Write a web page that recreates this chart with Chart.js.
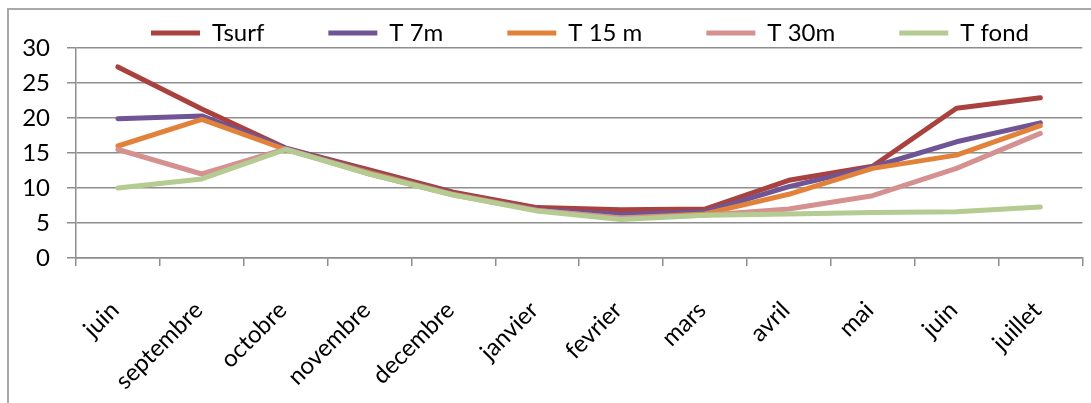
<!DOCTYPE html>
<html>
<head>
<meta charset="utf-8">
<script src="https://cdn.jsdelivr.net/npm/chart.js@4/dist/chart.umd.min.js"></script>
<style>
  html, body { margin: 0; padding: 0; background: #fff; overflow: hidden; }
  #wrap { position: relative; width: 1091px; height: 403px; }
  #frame { position: absolute; left: 7px; top: 8px; width: 1110px; height: 430px;
           border: 2px solid #a9a9a9; box-sizing: border-box; }
  #c { position: absolute; left: 0; top: 0; }
</style>
</head>
<body>
<div id="wrap">
  <div id="frame"></div>
  <canvas id="c" width="1091" height="403"></canvas>
</div>
<script>
// Monthly water temperatures (°C) at several depths
const months = ['juin', 'septembre', 'octobre', 'novembre', 'decembre', 'janvier',
                'fevrier', 'mars', 'avril', 'mai', 'juin', 'juillet'];
const tSurf = [27.3, 21.3, 15.7, 12.6, 9.4, 7.2, 6.9, 7.0, 11.1, 13.1, 21.4, 22.9];
const t7m   = [19.9, 20.3, 15.7, 12.3, 9.2, 6.9, 6.2, 6.6, 10.2, 13.0, 16.6, 19.3];
const t15m  = [16.0, 19.8, 15.5, 12.2, 9.1, 6.8, 5.7, 6.3, 9.1, 12.8, 14.7, 18.9];
const t30m  = [15.5, 12.0, 15.6, 12.0, 9.0, 6.8, 5.7, 6.1, 7.0, 8.9, 12.8, 17.8];
const tFond = [10.0, 11.3, 15.5, 12.0, 9.0, 6.7, 5.5, 6.1, 6.3, 6.5, 6.6, 7.3];
const seriesNames = ['Tsurf', 'T 7m', 'T 15 m', 'T 30m', 'T fond'];
const yTicks = [0, 5, 10, 15, 20, 25, 30];

const seriesValues = [tSurf, t7m, t15m, t30m, tFond];
const seriesColors = ['#a9413e', '#6f5596', '#e2823a', '#d59190', '#b4cb91'];
const FONT = 'Lato, "Liberation Sans", sans-serif';
const FONT_SIZE = 24;
const GRID = '#8e8e8e';

// Places the legend row at the top of the frame
const legendPlacement = {
  id: 'legendPlacement',
  afterLayout(chart) {
    const lg = chart.legend;
    if (!lg) return;
    const pad = lg.options.labels.padding;
    const w = lg.width;
    lg.left = 151 - pad; lg.right = lg.left + w;
    lg.top = 33 - FONT_SIZE / 2 - pad; lg.bottom = 48;
    lg.height = lg.bottom - lg.top;
  }
};

new Chart(document.getElementById('c'), {
  type: 'line',
  data: {
    labels: months,
    datasets: seriesNames.map((name, i) => ({
      label: name,
      data: seriesValues[i],
      borderColor: seriesColors[i],
      backgroundColor: seriesColors[i],
      borderWidth: 5,
      borderCapStyle: 'round',
      borderJoinStyle: 'round',
      pointRadius: 0,
      pointHoverRadius: 0,
      pointStyle: 'line',
      tension: 0,
      fill: false,
      order: seriesNames.length - i
    }))
  },
  options: {
    responsive: false,
    animation: false,
    events: [],
    layout: { padding: { left: 0, right: 7, top: 0, bottom: 0 } },
    plugins: {
      tooltip: { enabled: false },
      legend: {
        position: 'top',
        align: 'start',
        maxHeight: 48,
        labels: {
          usePointStyle: true,
          pointStyleWidth: 49,
          padding: 64,
          color: '#000',
          font: { family: FONT, size: FONT_SIZE },
          sort: (a, b) => a.datasetIndex - b.datasetIndex
        }
      }
    },
    scales: {
      x: {
        offset: true,
        afterFit: s => { s.height = 145; },
        grid: { offset: true, drawOnChartArea: false, drawTicks: true, tickLength: 8,
                color: GRID, lineWidth: 1.5 },
        border: { color: GRID, width: 1.5 },
        ticks: { autoSkip: false, maxRotation: 45, minRotation: 45, padding: 30,
                 labelOffset: -3, color: '#000', font: { family: FONT, size: FONT_SIZE } }
      },
      y: {
        min: 0, max: 30,
        afterFit: s => { s.width = 76; },
        afterBuildTicks: s => { s.ticks = yTicks.map(v => ({ value: v })); },
        grid: { color: GRID, lineWidth: 1.5, tickLength: 9 },
        border: { color: GRID, width: 1.5 },
        ticks: { padding: 17, color: '#000', font: { family: FONT, size: FONT_SIZE } }
      }
    }
  },
  plugins: [legendPlacement]
});
</script>
</body>
</html>
